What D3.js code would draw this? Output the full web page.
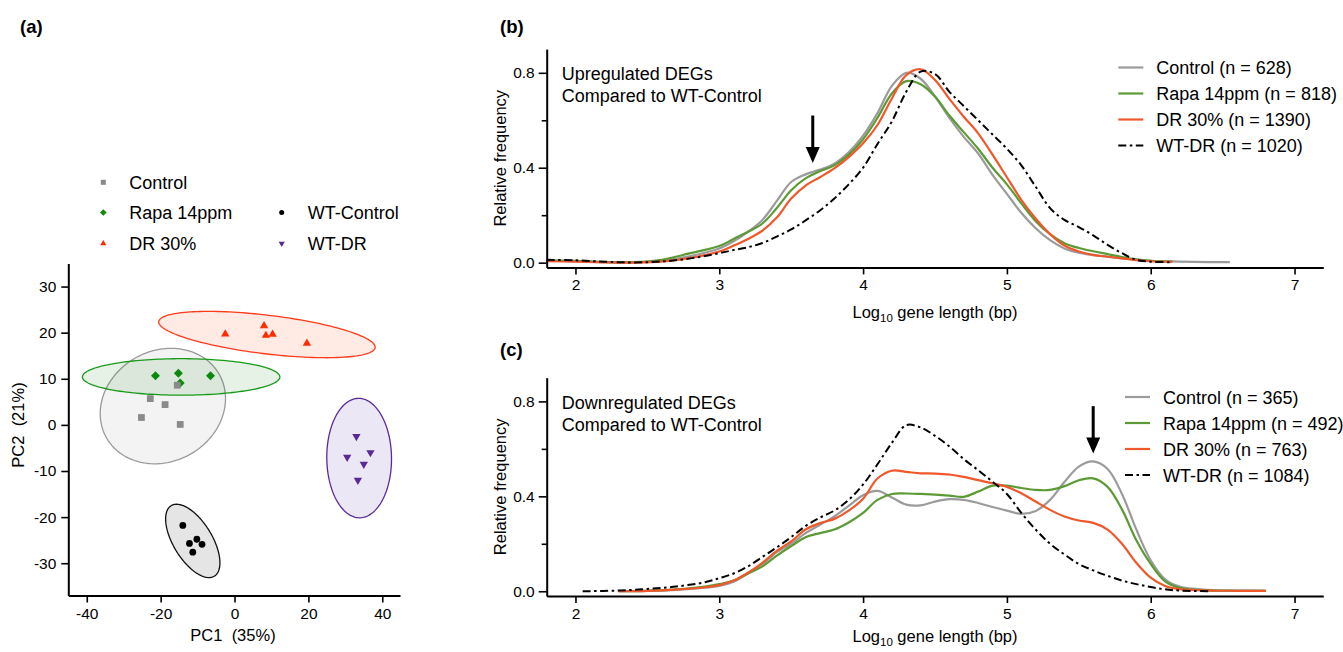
<!DOCTYPE html>
<html>
<head>
<meta charset="utf-8">
<script src="https://cdn.jsdelivr.net/npm/d3@7"></script>
<style>
  body { margin: 0; background: #fff; }
  svg { font-family: "Liberation Sans", Arial, sans-serif; }
</style>
</head>
<body>
<svg id="fig" width="1343" height="652"></svg>
<script>
// ---- PCA scores (panel a) ----
const ctrlPC1 = [-15.5, -22.8, -18.8, -25.2, -14.7];
const ctrlPC2 = [8.6, 5.7, 4.4, 1.6, 0.1];
const rapaPC1 = [-21.4, -15.2, -14.7, -6.5];
const rapaPC2 = [10.65, 11.2, 9.1, 10.65];
const drPC1 = [-2.5, 8.0, 8.5, 10.3, 19.6];
const drPC2 = [19.7, 21.5, 19.4, 19.65, 17.7];
const wtcPC1 = [-14.0, -12.2, -10.2, -8.8, -11.3];
const wtcPC2 = [-21.8, -25.7, -24.8, -25.9, -27.6];
const wtdrPC1 = [33.0, 30.5, 36.8, 35.0, 33.4];
const wtdrPC2 = [-2.5, -7.0, -6.0, -8.5, -12.0];
const pcaXTicks = [-40, -20, 0, 20, 40];
const pcaYTicks = [-30, -20, -10, 0, 10, 20, 30];

// ---- gene length distributions (panels b, c) ----
const upX = [1.8, 2.0, 2.2, 2.4, 2.6, 2.8, 3.0, 3.1, 3.2, 3.3, 3.4, 3.5, 3.6, 3.7, 3.8, 3.9, 4.0, 4.1, 4.2, 4.3,
             4.4, 4.5, 4.6, 4.7, 4.8, 4.9, 5.0, 5.1, 5.2, 5.3, 5.4, 5.5, 5.6, 5.7, 5.8, 5.9, 6.0, 6.15, 6.3, 6.55];
const upControl = [.008, .006, .002, .001, .008, .028, .06, .09, .13, .18, .26, .34, .372, .392, .417, .465, .535, .63, .745, .80,
                   .775, .70, .61, .53, .46, .37, .29, .21, .145, .095, .06, .042, .032, .025, .018, .012, .008, .005, .003, .002];
const upRapa = [.01, .008, .003, .002, .012, .04, .07, .1, .13, .165, .23, .305, .355, .385, .41, .455, .52, .61, .713, .765,
                .752, .70, .62, .55, .48, .40, .33, .25, .175, .12, .082, .062, .048, .036, .024, .014, .008, .004, null, null];
const upDR = [.006, .004, .001, 0, .004, .02, .047, .072, .1, .135, .19, .27, .325, .36, .397, .445, .503, .58, .692, .79,
              .815, .77, .69, .615, .545, .455, .36, .265, .186, .12, .072, .047, .033, .025, .018, .011, .006, .003, null, null];
const upWTDR = [.012, .01, .004, .001, .005, .018, .04, .053, .065, .083, .11, .14, .178, .22, .27, .33, .40, .50, .595, .72,
                .805, .795, .72, .66, .60, .54, .48, .41, .32, .23, .18, .15, .115, .075, .04, .012, .004, .002, null, null];

const downX = [2.05, 2.3, 2.5, 2.7, 2.9, 3.0, 3.1, 3.2, 3.3, 3.4, 3.5, 3.6, 3.7, 3.8, 3.9, 4.0, 4.1, 4.2, 4.3, 4.4, 4.5,
               4.6, 4.7, 4.8, 4.9, 5.0, 5.1, 5.2, 5.3, 5.4, 5.5, 5.6, 5.7, 5.8, 5.9, 6.0, 6.1, 6.2, 6.4, 6.6, 6.8];
const downControl = [null, 0, .002, .006, .015, .022, .04, .075, .115, .165, .2, .245, .28, .315, .36, .405, .423, .395, .365, .362, .378,
                     .388, .385, .372, .355, .34, .326, .338, .385, .46, .525, .547, .515, .41, .26, .13, .05, .02, .006, .003, .002];
const downRapa = [null, 0, .002, .008, .02, .03, .045, .075, .105, .15, .19, .228, .245, .26, .29, .33, .385, .41, .412, .41, .407,
                  .403, .398, .42, .445, .445, .435, .427, .427, .443, .468, .476, .44, .345, .215, .115, .042, .015, .004, .002, .002];
const downDR = [null, 0, .002, .007, .017, .026, .045, .078, .12, .17, .21, .26, .287, .305, .34, .39, .475, .508, .503, .497, .496,
                .492, .482, .468, .455, .44, .413, .378, .343, .315, .298, .288, .26, .2, .12, .057, .022, .009, .003, .002, .002];
const downWTDR = [0, .003, .01, .02, .038, .055, .075, .105, .145, .185, .228, .275, .31, .34, .385, .45, .535, .625, .70, .69, .655,
                  .61, .557, .51, .462, .41, .33, .26, .2, .155, .115, .088, .065, .045, .03, .018, .008, .003, 0, null, null];

const upLabels = ['Control (n = 628)', 'Rapa 14ppm (n = 818)', 'DR 30% (n = 1390)', 'WT-DR (n = 1020)'];
const downLabels = ['Control (n = 365)', 'Rapa 14ppm (n = 492)', 'DR 30% (n = 763)', 'WT-DR (n = 1084)'];
const lenXTicks = [2, 3, 4, 5, 6, 7];
const freqTicks = [0, 0.4, 0.8];
const freqMinor = [0.2, 0.6];
const arrowX = [3.65, 5.6];
const arrowTop = [0.62, 0.78];
const arrowTip = [0.42, 0.58];

const FONT = '"Liberation Sans", Arial, sans-serif';
const svg = d3.select('#fig');

function styleAxis(g, fs) {
  g.attr('font-family', FONT).attr('font-size', fs);
  g.select('.domain').attr('stroke', '#000').attr('stroke-width', 2);
  g.selectAll('.tick line').attr('stroke', '#000').attr('stroke-width', 1.6);
  g.selectAll('.tick text').attr('fill', '#000');
}

// ================= panel (a) =================
const xA = d3.scaleLinear().domain([-45, 44.8]).range([68.3, 400]);
const yA = d3.scaleLinear().domain([-37, 35]).range([595.5, 263.5]);

const pcaGroups = [
  {name: 'Control', pc1: ctrlPC1, pc2: ctrlPC2, color: '#8a8a8a', stroke: '#9a9a9a', fill: 'rgba(140,140,140,0.1)', sym: d3.symbolSquare, size: 46, rot: 0},
  {name: 'Rapa 14ppm', pc1: rapaPC1, pc2: rapaPC2, color: '#0a8a0a', stroke: '#189a18', fill: 'rgba(20,140,20,0.11)', sym: d3.symbolSquare, size: 40, rot: 45},
  {name: 'DR 30%', pc1: drPC1, pc2: drPC2, color: '#ff2a00', stroke: '#ff3a1a', fill: 'rgba(255,90,50,0.13)', sym: d3.symbolTriangle, size: 30, rot: 0},
  {name: 'WT-Control', pc1: wtcPC1, pc2: wtcPC2, color: '#000000', stroke: '#111111', fill: 'rgba(0,0,0,0.1)', sym: d3.symbolCircle, size: 36, rot: 0},
  {name: 'WT-DR', pc1: wtdrPC1, pc2: wtdrPC2, color: '#5a2a92', stroke: '#5a2a9a', fill: 'rgba(100,60,170,0.12)', sym: d3.symbolTriangle, size: 30, rot: 180}
];

// 95% normal data ellipse (F-based radius, as ggplot stat_ellipse)
function ellipse(xs, ys) {
  const n = xs.length, mx = d3.mean(xs), my = d3.mean(ys);
  let sxx = 0, syy = 0, sxy = 0;
  xs.forEach((x, i) => { sxx += (x - mx) ** 2; syy += (ys[i] - my) ** 2; sxy += (x - mx) * (ys[i] - my); });
  sxx /= n - 1; syy /= n - 1; sxy /= n - 1;
  const df = n - 1;
  const k = 2 * (df / 2) * (Math.pow(0.05, -2 / df) - 1);
  const r = Math.sqrt(k), a = Math.sqrt(sxx), b = sxy / a, c = Math.sqrt(syy - b * b);
  return d3.range(160).map(i => {
    const t = i / 160 * 2 * Math.PI;
    return [mx + r * a * Math.cos(t), my + r * (b * Math.cos(t) + c * Math.sin(t))];
  });
}

const gA = svg.append('g');
const ellLine = d3.line().x(d => xA(d[0])).y(d => yA(d[1])).curve(d3.curveLinearClosed);
pcaGroups.forEach(gr => {
  gA.append('path')
    .attr('d', ellLine(ellipse(gr.pc1, gr.pc2)))
    .attr('fill', gr.fill)
    .attr('stroke', gr.stroke)
    .attr('stroke-width', 1.3);
});

// points (Rapa under Control where they overlap)
[1, 0, 2, 3, 4].forEach(gi => {
  const gr = pcaGroups[gi];
  gA.selectAll(null)
    .data(gr.pc1.map((x, i) => [x, gr.pc2[i]]))
    .enter()
    .append('path')
    .attr('d', d3.symbol().type(gr.sym).size(gr.size))
    .attr('transform', d => `translate(${xA(d[0])},${yA(d[1])}) rotate(${gr.rot})`)
    .attr('fill', gr.color);
});

// axes
const axA_x = svg.append('g')
  .attr('transform', `translate(0,${yA.range()[0]})`)
  .call(d3.axisBottom(xA).tickValues(pcaXTicks).tickSize(7).tickPadding(5).tickSizeOuter(0).tickFormat(d => String(d)));
styleAxis(axA_x, 15.5);
const axA_y = svg.append('g')
  .attr('transform', `translate(${xA.range()[0]},0)`)
  .call(d3.axisLeft(yA).tickValues(pcaYTicks).tickSize(7).tickPadding(5).tickSizeOuter(0).tickFormat(d => String(d)));
styleAxis(axA_y, 15.5);

svg.append('text').attr('x', 233).attr('y', 641).attr('text-anchor', 'middle')
  .attr('font-size', 16.5).attr('xml:space', 'preserve').text('PC1  (35%)');
svg.append('text').attr('transform', 'translate(24,425) rotate(-90)').attr('text-anchor', 'middle')
  .attr('font-size', 16.5).attr('xml:space', 'preserve').text('PC2  (21%)');

// legend (a)
const legA = [[103.3, 182.3], [103.3, 212.5], [103.3, 243.5], [281.7, 212.5], [281.7, 243.5]];
pcaGroups.forEach((gr, i) => {
  const [lx, ly] = legA[i];
  svg.append('path')
    .attr('d', d3.symbol().type(gr.sym).size(gr.size * 0.55))
    .attr('transform', `translate(${lx},${ly}) rotate(${gr.rot})`)
    .attr('fill', gr.color);
  svg.append('text').attr('x', lx + 26).attr('y', ly + 6.5).attr('font-size', 18).text(gr.name);
});

// ================= panels (b) and (c) =================
const lenColors = ['#9b9b9b', '#5b9a34', '#f0582c', '#000000'];

function lengthPanel(opts) {
  const x = d3.scaleLinear().domain([1.8, 7.2]).range([546.7, 1323.3]);
  const y = d3.scaleLinear().domain([-0.02, 0.9]).range([opts.y0 + 4.7, opts.y0 - 0.92 * 237.3 + 4.7]);
  const g = svg.append('g');

  // curves
  opts.series.forEach((vals, si) => {
    const pts = opts.xs.map((xv, i) => [xv, vals[i]]);
    const line = d3.line()
      .defined(d => d[1] != null)
      .x(d => x(d[0])).y(d => y(d[1]))
      .curve(d3.curveCatmullRom.alpha(0.5));
    g.append('path')
      .attr('d', line(pts))
      .attr('fill', 'none')
      .attr('stroke', lenColors[si])
      .attr('stroke-width', si === 3 ? 2 : 2.2)
      .attr('stroke-dasharray', si === 3 ? '8,3.5,2.5,3.5' : null);
  });

  // axes
  const ax = svg.append('g')
    .attr('transform', `translate(0,${y.range()[0]})`)
    .call(d3.axisBottom(x).tickValues(lenXTicks).tickSize(7).tickPadding(5).tickSizeOuter(0).tickFormat(d3.format('d')));
  styleAxis(ax, 15.5);
  const ay = svg.append('g')
    .attr('transform', `translate(${x.range()[0]},0)`)
    .call(d3.axisLeft(y).tickValues(freqTicks).tickSize(8).tickPadding(4).tickSizeOuter(0).tickFormat(d3.format('.1f')));
  styleAxis(ay, 15.5);
  const aym = svg.append('g')
    .attr('transform', `translate(${x.range()[0]},0)`)
    .call(d3.axisLeft(y).tickValues(freqMinor).tickSize(5).tickFormat(''));
  aym.select('.domain').remove();
  aym.selectAll('.tick line').attr('stroke', '#000').attr('stroke-width', 1.6);

  // axis titles
  const xt = svg.append('text').attr('x', 935).attr('y', y.range()[0] + opts.titleGap)
    .attr('text-anchor', 'middle').attr('font-size', 16.5);
  xt.append('tspan').text('Log');
  xt.append('tspan').text('10').attr('font-size', 11.5).attr('dy', 4);
  xt.append('tspan').attr('xml:space', 'preserve').text(' gene length (bp)').attr('dy', -4);
  svg.append('text')
    .attr('transform', `translate(506,${(y.range()[0] + y.range()[1]) / 2}) rotate(-90)`)
    .attr('text-anchor', 'middle').attr('font-size', 16.5).text('Relative frequency');

  // inner title
  opts.title.forEach((t, i) => {
    svg.append('text').attr('x', 561.7).attr('y', y(0.8) + 7.5 + i * 22).attr('font-size', 18).text(t);
  });

  // legend
  opts.labels.forEach((lab, i) => {
    const ly = opts.legY + i * 26;
    svg.append('line')
      .attr('x1', opts.legX).attr('x2', opts.legX + 25).attr('y1', ly).attr('y2', ly)
      .attr('stroke', lenColors[i]).attr('stroke-width', 2.2)
      .attr('stroke-dasharray', i === 3 ? '8,3.5,2.5,3.5' : null);
    svg.append('text').attr('x', opts.legX + 38).attr('y', ly + 6.5).attr('font-size', 18).text(lab);
  });

  // arrow
  const axp = x(arrowX[opts.arrow]);
  const yt = y(arrowTop[opts.arrow]), yp = y(arrowTip[opts.arrow]);
  g.append('line').attr('x1', axp).attr('x2', axp).attr('y1', yt).attr('y2', yp - 12)
    .attr('stroke', '#000').attr('stroke-width', 3);
  g.append('path')
    .attr('d', `M${axp - 7},${yp - 16} L${axp + 7},${yp - 16} L${axp},${yp} Z`)
    .attr('fill', '#000');
}

lengthPanel({
  y0: 262.7, xs: upX, series: [upControl, upRapa, upDR, upWTDR],
  labels: upLabels, legX: 1118.3, legY: 67.5, arrow: 0, titleGap: 51,
  title: ['Upregulated DEGs', 'Compared to WT-Control']
});
lengthPanel({
  y0: 591.3, xs: downX, series: [downControl, downRapa, downDR, downWTDR],
  labels: downLabels, legX: 1125, legY: 397, arrow: 1, titleGap: 46,
  title: ['Downregulated DEGs', 'Compared to WT-Control']
});

// panel letters
[['(a)', 20, 33], ['(b)', 500, 33], ['(c)', 500, 356]].forEach(([t, px, py]) => {
  svg.append('text').attr('x', px).attr('y', py).attr('font-size', 18.5).attr('font-weight', 'bold').text(t);
});
</script>
</body>
</html>
